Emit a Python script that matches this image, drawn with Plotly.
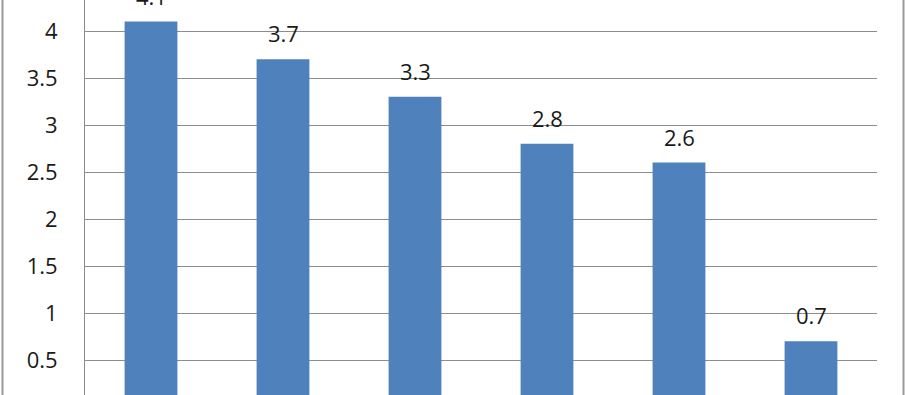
import plotly.graph_objects as go

categories = ["Category 1", "Category 2", "Category 3", "Category 4", "Category 5", "Category 6"]
values = [4.1, 3.7, 3.3, 2.8, 2.6, 0.7]
tick_vals = [0.5, 1, 1.5, 2, 2.5, 3, 3.5, 4]
tick_text = ["0.5", "1", "1.5", "2", "2.5", "3", "3.5", "4"]

W, H = 905, 395
ML, MR = 85, 28
FONT = "Open Sans"

fig = go.Figure()
fig.add_trace(go.Bar(
    x=categories, y=values,
    marker=dict(color="#4F81BD", line=dict(width=0)),
    hoverinfo="skip",
))

for c, v in zip(categories, values):
    fig.add_annotation(
        x=c, y=v, text=f"{v}", showarrow=False,
        yanchor="bottom", yshift=9,
        font=dict(family=FONT, size=22, color="#1a1a1a"),
    )

plot_w = W - ML - MR
# outer chart border (left and right edges)
for xpx in (2.5, W - 1.5):
    xp = (xpx - ML) / plot_w
    fig.add_shape(type="line", xref="paper", yref="paper",
                  x0=xp, x1=xp, y0=-0.1, y1=1.1,
                  line=dict(color="#9a9a9a", width=2))

fig.update_layout(
    width=W, height=H,
    margin=dict(l=ML, r=MR, t=0, b=0, pad=0),
    paper_bgcolor="white", plot_bgcolor="white",
    bargap=0.6, showlegend=False,
    font=dict(family=FONT, size=22, color="#1a1a1a"),
)
fig.update_xaxes(showticklabels=False, showgrid=False, zeroline=False,
                 showline=False, ticks="", automargin=False)
fig.update_yaxes(range=[0.128, 4.33], tickvals=tick_vals, ticktext=tick_text,
                 showgrid=True, gridcolor="#8c8c8c", gridwidth=1,
                 zeroline=False, showline=True, linecolor="#8c8c8c", linewidth=1,
                 ticks="", ticklabelstandoff=22, automargin=False,
                 tickfont=dict(family=FONT, size=22, color="#1a1a1a"))

fig.write_html("out.html")
